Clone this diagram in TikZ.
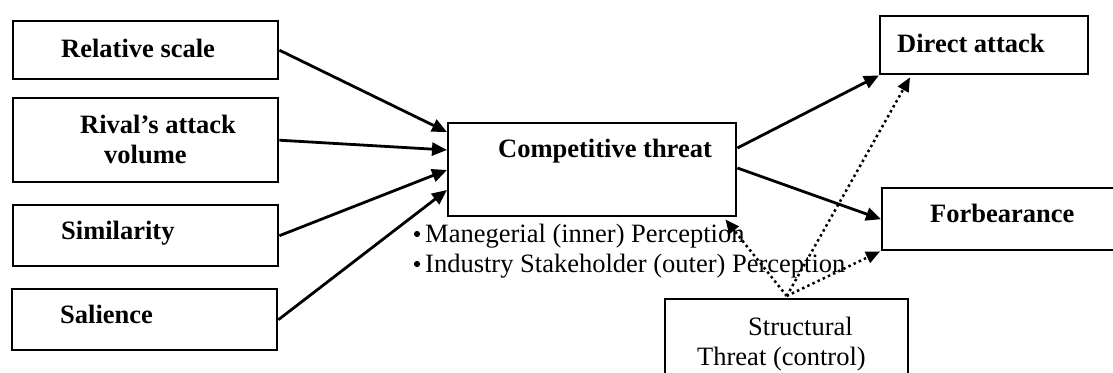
\documentclass[tikz,border=0pt]{standalone}
\usepackage{fontspec}
\setmainfont{Liberation Serif}
\usetikzlibrary{arrows.meta}
\begin{document}
\begin{tikzpicture}[x=1pt,y=-1pt,
  box/.style={draw=black, line width=2.4pt, rectangle, anchor=north west, inner sep=0pt},
  btxt/.style={anchor=base west, inner sep=0pt, font=\fontsize{26.5}{30}\selectfont\bfseries},
  rtxt/.style={anchor=base west, inner sep=0pt, font=\fontsize{26.5}{30}\selectfont},
  arr/.style={line width=2.8pt, -{Triangle[length=15pt,width=13pt]}},
  darr/.style={line width=2.5pt, dash pattern=on 2.5pt off 3.2pt, -{Triangle[length=14pt,width=12pt]}}
]
\clip (0,0) rectangle (1113,372);
\fill[white] (0,0) rectangle (1113,372);
% boxes
\node[box, minimum width=265pt, minimum height=58pt] (rel) at (12,20) {};
\node[box, minimum width=265pt, minimum height=84pt] (riv) at (12,97) {};
\node[box, minimum width=265pt, minimum height=61pt] (sim) at (12,204) {};
\node[box, minimum width=265pt, minimum height=61pt] (sal) at (11,288) {};
\node[box, minimum width=288pt, minimum height=93pt] (comp) at (447,122) {};
\node[box, minimum width=208pt, minimum height=58pt] (dir) at (879,15) {};
\node[box, minimum width=250pt, minimum height=62pt] (forb) at (881,187) {};
\node[box, minimum width=243pt, minimum height=100pt] (str) at (664,298) {};
% texts
\node[btxt] (trel) at (61,57) {Relative scale};
\node[btxt] (triv1) at (80,133) {Rival’s attack};
\node[btxt] (triv2) at (104,163) {volume};
\node[btxt] (tsim) at (61,239) {Similarity};
\node[btxt] (tsal) at (60,323) {Salience};
\node[btxt] (tcomp) at (498,157) {Competitive threat};
\node[btxt] (tdir) at (897,52) {Direct attack};
\node[btxt] (tforb) at (930,222) {Forbearance};
\node[rtxt] (tstr1) at (748,335) {Structural};
\node[rtxt] (tstr2) at (697,365) {Threat (control)};
\node[rtxt] (tman) at (425,242) {Manegerial (inner) Perception};
\node[rtxt] (tind) at (425,272) {Industry Stakeholder (outer) Perception};
\fill (417,234) circle (3.1);
\fill (417,264) circle (3.1);
% solid arrows
\draw[arr] (rel.east) -- ([yshift=-10pt]comp.north west);
\draw[arr] (riv.east) -- ([yshift=-28pt]comp.north west);
\draw[arr] (sim.east) -- ([yshift=-48pt]comp.north west);
\draw[arr] (sal.east) -- ([yshift=-68pt]comp.north west);
\draw[arr] ([yshift=-26pt]comp.north east) -- (dir.south west);
\draw[arr] ([yshift=-46pt]comp.north east) -- (forb.west);
% dotted arrows
\coordinate (s) at ([yshift=2pt]str.north);
\draw[darr] (s) -- ([xshift=-12pt,yshift=-2pt]comp.south east);
\draw[darr] (s) -- ([xshift=31pt,yshift=-2pt]dir.south west);
\draw[darr] (s) -- ([xshift=-1pt]forb.south west);
\end{tikzpicture}
\end{document}
